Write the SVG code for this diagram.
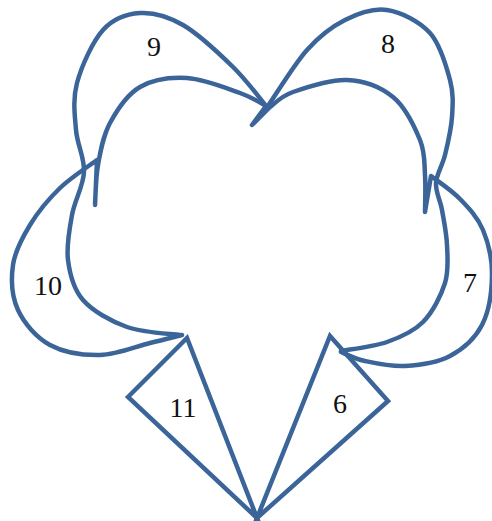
<svg xmlns="http://www.w3.org/2000/svg" width="492" height="521" viewBox="0 0 492 521">
<style>
.ln{fill:none;stroke:#3b6599;stroke-width:4.5;stroke-linejoin:round;stroke-linecap:round}
.tr{fill:none;stroke:#3b6599;stroke-width:4.5;stroke-linejoin:miter;stroke-miterlimit:10}
.lb{font-family:"Liberation Serif","Times New Roman",serif;font-size:28px;fill:#111;text-anchor:middle}
</style>
<rect width="492" height="521" fill="#fff"/>
<g id="loops">
<path id="outer9-inner10" class="ln" d="M180,335 C171.2,333.7 143.2,332.8 127,327 C110.8,321.2 92.8,311.2 83,300 C73.2,288.8 69.8,274.2 68,260 C66.2,245.8 69.3,229.7 72,215 C74.7,200.3 83.3,186.2 84,172 C84.7,157.8 77.2,144.8 76,130 C74.8,115.2 72.5,99.7 77,83 C81.5,66.3 92.5,41.7 103,30 C113.5,18.3 126.7,13.8 140,13 C153.3,12.2 167.5,16 183,25 C198.5,34 219,53.3 233,67 C247,80.7 261.3,100.3 267,107"/>
<path id="outer8-inner7" class="ln" d="M341,351 C348.7,349.5 373.3,346.8 387,342 C400.7,337.2 413.3,331.8 423,322 C432.7,312.2 441,295.8 445,283 C449,270.2 447.5,257.2 447,245 C446.5,232.8 443.8,220.3 442,210 C440.2,199.7 435.5,192.2 436,183 C436.5,173.8 442.3,166 445,155 C447.7,144 451.2,129.5 452,117 C452.8,104.5 453.7,94 450,80 C446.3,66 440.5,44.7 430,33 C419.5,21.3 401.2,12.2 387,10 C372.8,7.8 358.3,13.3 345,20 C331.7,26.7 319.8,35.7 307,50 C294.2,64.3 274.5,96.7 268,106"/>
<path id="outer10-inner9-inner8-outer7" class="ln" d="M182,335 C176.7,336.3 163.7,339.7 150,343 C136.3,346.3 116.7,354.7 100,355 C83.3,355.3 63.7,352.5 50,345 C36.3,337.5 24.2,323.3 18,310 C11.8,296.7 11,279.2 13,265 C15,250.8 22.2,237.8 30,225 C37.8,212.2 48.8,198.8 60,188 C71.2,177.2 90.8,164.7 97,160 L95,205 C95.5,199.2 95.5,178.8 98,165 C100.5,151.2 103,136 110,123 C117,110 127.2,94.5 140,87 C152.8,79.5 170.3,77 187,78 C203.7,79 226.8,88.3 240,93 C253.2,97.7 261.7,103.8 266,106 L252,125 L270,107 C273.8,104.5 280.2,96.5 293,92 C305.8,87.5 330.3,79.2 347,80 C363.7,80.8 380.8,87 393,97 C405.2,107 414.7,127 420,140 C425.3,153 424.2,162.7 425,175 C425.8,187.3 425,207.5 425,212 L431,176 C435.8,179.8 451.3,190 460,199 C468.7,208 477.7,217.3 483,230 C488.3,242.7 492.2,259.2 492,275 C491.8,290.8 489,311.5 482,325 C475,338.5 462.8,349.2 450,356 C437.2,362.8 419.2,365.2 405,366 C390.8,366.8 375.7,363.3 365,361 C354.3,358.7 345,353.5 341,352"/>
<text class="lb" x="154" y="56">9</text>
<text class="lb" x="388" y="53">8</text>
<text class="lb" x="48" y="295">10</text>
<text class="lb" x="470" y="292">7</text>
</g>
<g id="triangle-11">
<polygon class="tr" points="128,397 187,338 257,518"/>
<text class="lb" x="183" y="417">11</text>
</g>
<g id="triangle-6">
<polygon class="tr" points="330,336 388,401 257,518"/>
<text class="lb" x="340" y="413">6</text>
</g>
</svg>
